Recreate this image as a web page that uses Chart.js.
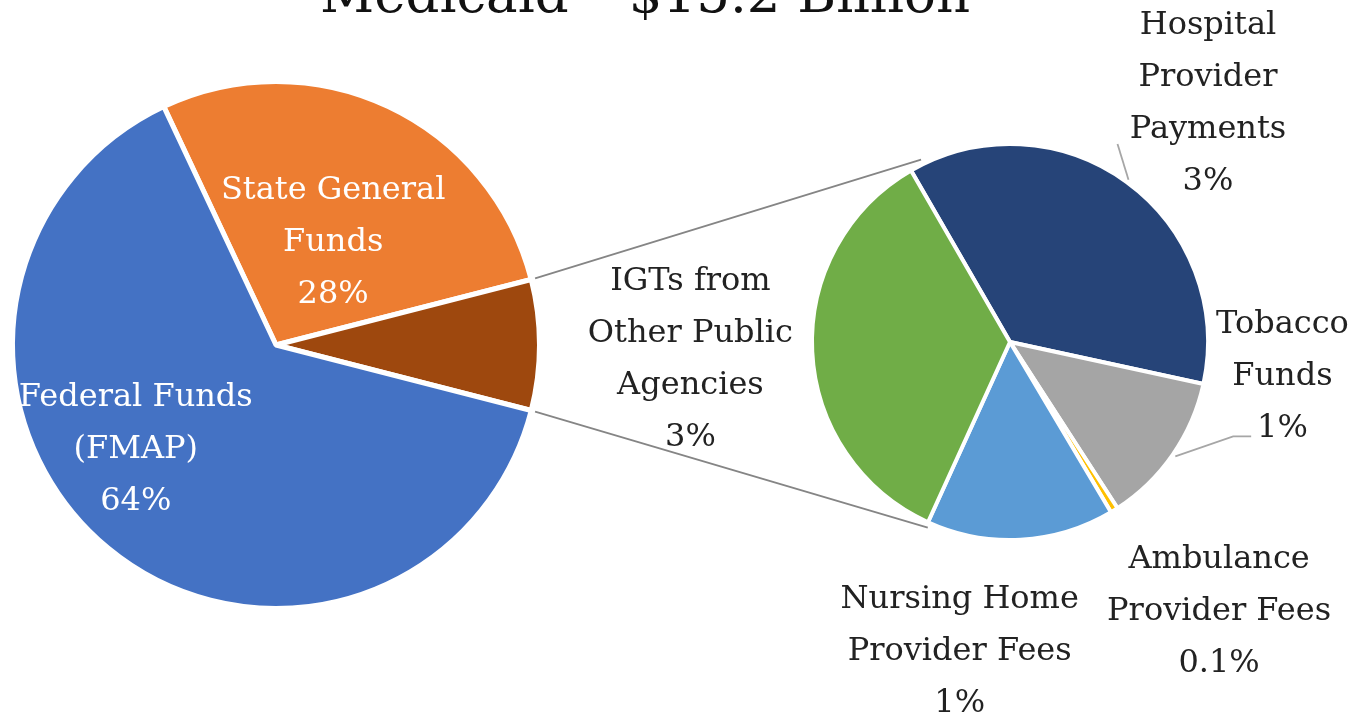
<!DOCTYPE html>
<html>
<head>
<meta charset="utf-8">
<script src="https://cdn.jsdelivr.net/npm/chart.js@4.4.1/dist/chart.umd.min.js"></script>
<style>
html, body { margin: 0; padding: 0; background: #fff; overflow: hidden; }
#wrap { position: relative; width: 1360px; height: 718px; }
#wrap canvas { position: absolute; left: 0; top: 0; }
</style>
</head>
<body>
<div id="wrap">
    <canvas id="mainPie" width="1360" height="718" style="width:1360px;height:718px"></canvas>
    <canvas id="subPie" width="1360" height="718" style="width:1360px;height:718px"></canvas>
</div>
<script>
// Medicaid funding sources (share of $15.2 billion), clockwise from top-left
var titleText = 'Medicaid \u2013 $15.2 Billion';

var mainLabels = [['State General', 'Funds'], ['Other'], ['Federal Funds', '(FMAP)']];
var mainValues = [28, 8, 64];
var mainPctText = ['28%', '8%', '64%'];
var mainColors = ['#ED7D31', '#9E480E', '#4472C4'];

// breakdown of the "Other" slice
var subLabels = [
    ['Hospital', 'Provider', 'Payments'],
    ['Tobacco', 'Funds'],
    ['Ambulance', 'Provider Fees'],
    ['Nursing Home', 'Provider Fees'],
    ['IGTs from', 'Other Public', 'Agencies']
];
var subValues = [2.95, 1.0, 0.05, 1.23, 2.8];
var subPctText = ['3%', '1%', '0.1%', '1%', '3%'];
var subColors = ['#264478', '#A5A5A5', '#FFC000', '#5B9BD5', '#70AD47'];

var FONT = '"DejaVu Serif", "Liberation Serif", serif';
var LINE_H = 52;

// label placement, in radius units from each pie's centre (null = no label)
var mainLabelPos = [[0.217, -0.388], null, [-0.532, 0.399]];
var subLabelPos = [[1.0, -1.203], [1.376, 0.173], [1.056, 1.36], [-0.254, 1.563], [-1.614, 0.089]];
// leader lines: list of points in radius units, starting from the slice edge
var subLeaders = [[[0.543, -1.0]], [[1.127, 0.477], [1.218, 0.477]], null, null, null];

function drawLines(ctx, lines, x, yMid, color) {
    ctx.fillStyle = color;
    lines.forEach(function(t, i) {
        ctx.fillText(t, x, yMid + (i - (lines.length - 1) / 2) * LINE_H);
    });
}

function pieLabels(chart, labels, pct, pos, color) {
    var ctx = chart.ctx;
    var arcs = chart.getDatasetMeta(0).data;
    var cx = arcs[0].x, cy = arcs[0].y, r = arcs[0].outerRadius;
    ctx.save();
    ctx.font = '32px ' + FONT;
    ctx.textAlign = 'center';
    ctx.textBaseline = 'middle';
    labels.forEach(function(l, i) {
        if (!pos[i]) return;
        drawLines(ctx, l.concat([pct[i]]), cx + pos[i][0] * r, cy + pos[i][1] * r, color);
    });
    ctx.restore();
}

var mainChart = new Chart(document.getElementById('mainPie'), {
    type: 'pie',
    data: {
        labels: mainLabels.map(function(l) { return l.join(' '); }),
        datasets: [{
            data: mainValues,
            backgroundColor: mainColors,
            borderColor: '#ffffff',
            borderWidth: 5
        }]
    },
    options: {
        responsive: false,
        animation: false,
        // centre the "Other" slice on 3 o'clock
        rotation: 90 - (mainValues[0] + mainValues[1] / 2) / 100 * 360,
        layout: { padding: { left: 10, right: 818, top: 79, bottom: 107 } },
        plugins: { legend: { display: false }, tooltip: { enabled: true } }
    },
    plugins: [{
        id: 'mainLabels',
        afterDatasetsDraw: function(chart) {
            pieLabels(chart, mainLabels, mainPctText, mainLabelPos, '#ffffff');
        }
    }]
});

var subChart = new Chart(document.getElementById('subPie'), {
    type: 'pie',
    data: {
        labels: subLabels.map(function(l) { return l.join(' '); }),
        datasets: [{
            data: subValues,
            backgroundColor: subColors,
            borderColor: '#ffffff',
            borderWidth: 4
        }]
    },
    options: {
        responsive: false,
        animation: false,
        rotation: -30,
        layout: { padding: { left: 810, right: 150, top: 142, bottom: 176 } },
        plugins: { legend: { display: false }, tooltip: { enabled: true } }
    },
    plugins: [{
        id: 'subExtras',
        afterDatasetsDraw: function(chart) {
            var ctx = chart.ctx;
            var arcs = chart.getDatasetMeta(0).data;
            var cx = arcs[0].x, cy = arcs[0].y, r = arcs[0].outerRadius;

            // connector lines from the "Other" slice to the secondary pie
            var other = mainChart.getDatasetMeta(0).data[1];
            var igt = arcs[4];
            ctx.save();
            ctx.strokeStyle = '#858585';
            ctx.lineWidth = 1.8;
            ctx.beginPath();
            ctx.moveTo(other.x + (other.outerRadius + 4) * Math.cos(other.startAngle), other.y + (other.outerRadius + 4) * Math.sin(other.startAngle));
            ctx.lineTo(igt.x + (r + 5) * Math.cos(igt.endAngle + 0.07), igt.y + (r + 5) * Math.sin(igt.endAngle + 0.07));
            ctx.moveTo(other.x + (other.outerRadius + 4) * Math.cos(other.endAngle), other.y + (other.outerRadius + 4) * Math.sin(other.endAngle));
            ctx.lineTo(igt.x + (r + 5) * Math.cos(igt.startAngle - 0.01), igt.y + (r + 5) * Math.sin(igt.startAngle - 0.01));
            ctx.stroke();

            // leader lines
            ctx.strokeStyle = '#a6a6a6';
            subLeaders.forEach(function(pts, i) {
                if (!pts) return;
                var a = arcs[i];
                var mid = (a.startAngle + a.endAngle) / 2;
                ctx.beginPath();
                ctx.moveTo(cx + (r + 3) * Math.cos(mid), cy + (r + 3) * Math.sin(mid));
                pts.forEach(function(p) { ctx.lineTo(cx + p[0] * r, cy + p[1] * r); });
                ctx.stroke();
            });
            ctx.restore();

            pieLabels(chart, subLabels, subPctText, subLabelPos, '#222222');

            // title, mostly cut off by the top edge
            ctx.save();
            ctx.font = '53px ' + FONT;
            ctx.fillStyle = '#111111';
            ctx.textAlign = 'center';
            ctx.textBaseline = 'alphabetic';
            ctx.fillText(titleText, 645, 12);
            ctx.restore();
        }
    }]
});
</script>
</body>
</html>
